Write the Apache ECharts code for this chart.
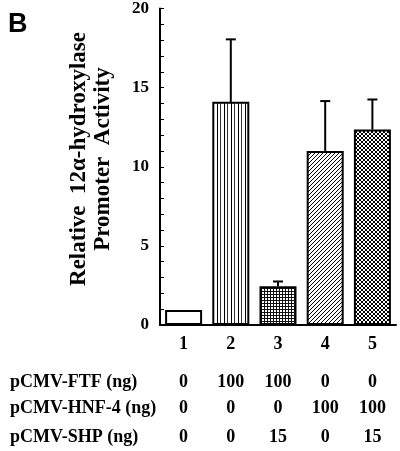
<!DOCTYPE html>
<html><head><meta charset="utf-8">
<script src="https://cdn.jsdelivr.net/npm/echarts@6/dist/echarts.min.js"></script>
<style>html,body{margin:0;padding:0;background:#fff}#c{width:400px;height:451px}</style>
</head><body><div id="c"></div>
<script>
// ---- data ----
const categories = ['1', '2', '3', '4', '5'];
const activity = [0.95, 14.1, 2.45, 11.0, 12.35];
const errorTop = [null, 18.05, 2.75, 14.15, 14.25];
const yMin = 0, yMax = 20, yStep = 5;
const rowNames = ['pCMV-FTF (ng)', 'pCMV-HNF-4 (ng)', 'pCMV-SHP (ng)'];
const ftf = ['0', '100', '100', '0', '0'];
const hnf4 = ['0', '0', '0', '100', '100'];
const shp = ['0', '0', '15', '0', '15'];
const rows = [ftf, hnf4, shp];
const yTitle = ['Relative  12\u03b1-hydroxylase', 'Promoter  Activity'];
const panel = 'B';

// ---- patterns ----
function pattern(kind) {
  const c = document.createElement('canvas');
  const ctx = c.getContext('2d');
  let w = 4, h = 4;
  if (kind === 'vert') { w = 7; h = 4; }
  if (kind === 'grid') { w = 3; h = 3; }
  c.width = w; c.height = h;
  ctx.fillStyle = '#fff'; ctx.fillRect(0, 0, w, h);
  ctx.fillStyle = '#000';
  if (kind === 'vert') {
    ctx.fillRect(0, 0, 1, h);
    ctx.fillStyle = '#333';
    ctx.fillRect(3, 0, 1, h);
  } else if (kind === 'grid') {
    ctx.fillStyle = '#111';
    ctx.fillRect(0, 0, w, 1);
    ctx.fillRect(0, 0, 1, h);
  } else if (kind === 'diag') {
    for (let i = 0; i < 4; i++) ctx.fillRect(3 - i, i, 1, 1);
  } else if (kind === 'cross') {
    for (let i = 0; i < 4; i++) { ctx.fillRect(3 - i, i, 1, 1); ctx.fillRect(i, i, 1, 1); }
  }
  return { image: c, repeat: 'repeat' };
}
const fills = ['#fff', pattern('vert'), pattern('grid'), pattern('diag'), pattern('cross')];

const serif = 'Liberation Serif, Times New Roman, serif';
const GRID_TOP = 4, GRID_BOTTOM_Y = 325;
const rowCenters = [382, 408, 437];
const FS = 18;

const chart = echarts.init(document.getElementById('c'), null, { renderer: 'canvas' });

const xAxes = [{
  type: 'category', data: categories, position: 'bottom',
  axisLine: { lineStyle: { color: '#000', width: 2 } },
  axisTick: { inside: true, length: 4, interval: (i) => i % 2 === 1, lineStyle: { color: '#000', width: 1.5 } },
  axisLabel: { margin: 10, fontFamily: serif, fontWeight: 'bold', fontSize: FS, color: '#000' },
  splitLine: { show: false }
}];
rows.forEach((r, k) => {
  xAxes.push({
    type: 'category', data: r, position: 'bottom',
    offset: rowCenters[k] - GRID_BOTTOM_Y - FS / 2,
    axisLine: { show: false }, axisTick: { show: false }, splitLine: { show: false },
    axisLabel: { margin: 0, fontFamily: serif, fontWeight: 'bold', fontSize: FS, color: '#000' }
  });
});

const errData = [];
errorTop.forEach((e, i) => { if (e != null) errData.push([i, activity[i], e]); });

const graphics = [
  { type: 'text', left: 8, top: 11, style: { text: panel, font: 'bold 27px "Liberation Sans", Arial, sans-serif', fill: '#000' } },
  { type: 'text', x: 91, y: 159, rotation: Math.PI / 2,
    style: { text: yTitle.join('\n'), font: 'bold 23px ' + serif, fill: '#000', align: 'center', verticalAlign: 'middle', lineHeight: 24 } }
];
rowNames.forEach((n, k) => {
  graphics.push({ type: 'text', x: 10, y: rowCenters[k],
    style: { text: n, font: 'bold 18px ' + serif, fill: '#000', align: 'left', verticalAlign: 'middle' } });
});

chart.setOption({
  animation: false,
  backgroundColor: '#fff',
  grid: { left: 160, right: 4, top: GRID_TOP, bottom: 451 - GRID_BOTTOM_Y, containLabel: false },
  xAxis: xAxes,
  yAxis: {
    type: 'value', min: yMin, max: yMax, interval: yStep,
    axisLine: { show: true, lineStyle: { color: '#000', width: 2 } },
    axisTick: { show: true, inside: true, length: 4, lineStyle: { color: '#000', width: 1 } },
    minorTick: { show: true, splitNumber: 5, length: 4, lineStyle: { color: '#000', width: 1 } },
    splitLine: { show: false }, minorSplitLine: { show: false },
    axisLabel: { margin: 11, fontFamily: serif, fontWeight: 'bold', fontSize: 17, color: '#000' }
  },
  graphic: graphics,
  series: [
    {
      type: 'bar', xAxisIndex: 0, barWidth: 37,
      data: activity.map((v, i) => ({ value: v, itemStyle: { color: fills[i] } })),
      itemStyle: { borderColor: '#000', borderWidth: 2 }
    },
    {
      type: 'custom', xAxisIndex: 0, data: errData, z: 3,
      renderItem: function (params, api) {
        const x = api.value(0);
        const lo = api.coord([x, api.value(1)]);
        const hi = api.coord([x, api.value(2)]);
        const hw = 5;
        return { type: 'group', children: [
          { type: 'line', shape: { x1: lo[0], y1: lo[1], x2: hi[0], y2: hi[1] }, style: { stroke: '#000', lineWidth: 2 } },
          { type: 'line', shape: { x1: hi[0] - hw, y1: hi[1], x2: hi[0] + hw, y2: hi[1] }, style: { stroke: '#000', lineWidth: 2 } }
        ] };
      }
    }
  ]
});
</script>
</body></html>
